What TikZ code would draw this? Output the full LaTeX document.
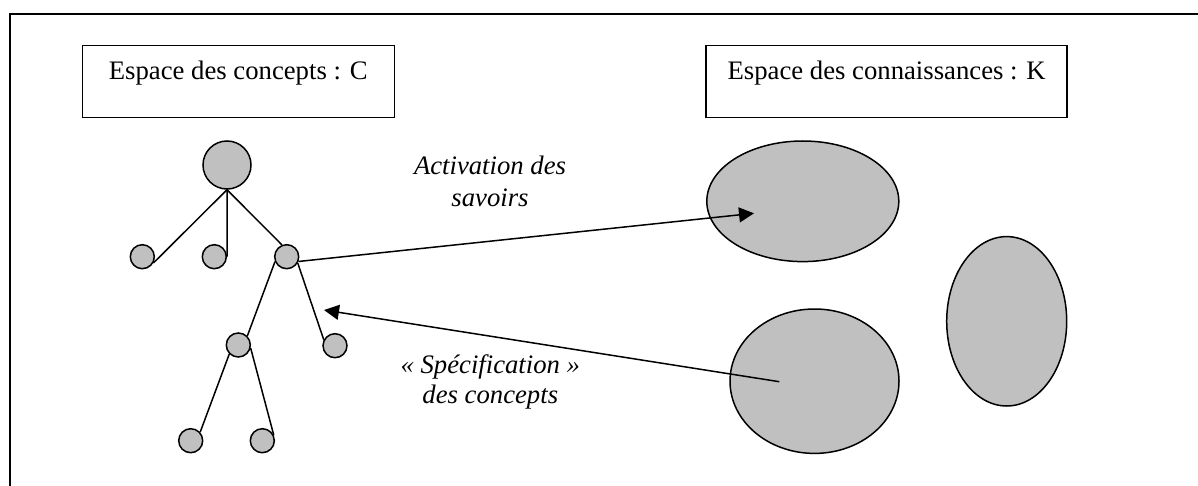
\documentclass[tikz,border=0pt]{standalone}
\usepackage{fontspec}
\setmainfont{Liberation Serif}
\usetikzlibrary{arrows.meta,shapes.geometric}
\definecolor{grayfill}{RGB}{192,192,192}
\begin{document}
\begin{tikzpicture}[x=1pt,y=-1pt,
  lw/.style={line width=1.5pt},
  bignode/.style={circle,draw,lw,fill=grayfill,minimum size=48pt,inner sep=0pt},
  smallnode/.style={circle,draw,lw,fill=grayfill,minimum size=24pt,inner sep=0pt},
  blob/.style={ellipse,draw,lw,fill=grayfill,inner sep=0pt},
  titlebox/.style={draw,lw,inner sep=0pt,font=\fontsize{26.7}{32}\selectfont,text height=19pt,text depth=22pt},
  lab/.style={font=\fontsize{26.7}{32}\selectfont\itshape,anchor=base,inner sep=0pt},
  tree/.style={lw},
  arr/.style={lw,-{Triangle[length=15pt,width=15pt]}}]
\useasboundingbox (0,0) rectangle (1198,486);
\fill[white] (0,0) rectangle (1198,486);
\draw[line width=2pt] (10,486) -- (10,14) -- (1198,14);

\node[titlebox,minimum width=312pt,minimum height=72pt] (boxC) at (238.3,81.5) {Espace des concepts : C};
\node[titlebox,minimum width=361pt,minimum height=72pt] (boxK) at (886.7,81.4) {Espace des connaissances : K};

% tree
\node[bignode] (root) at (227,165) {};
\node[smallnode] (c1) at (142.3,256.7) {};
\node[smallnode] (c2) at (214.3,256.7) {};
\node[smallnode] (c3) at (286.7,256.7) {};
\node[smallnode] (d1) at (238.3,345) {};
\node[smallnode] (d2) at (335,345.7) {};
\node[smallnode] (e1) at (190.7,440.7) {};
\node[smallnode] (e2) at (262.3,440.7) {};

\draw[tree] (root.south) -- (c1.-30);
\draw[tree] (root.south) -- (c2.east);
\draw[tree] (root.south) -- (c3.112);
\draw[tree] (c3.203) -- (d1.45);
\draw[tree] (c3.-30) -- (d2.152);
\draw[tree] (d1.225) -- (e1.42);
\draw[tree] (d1.-14) -- (e2.26);

% knowledge blobs
\node[blob,minimum width=192pt,minimum height=120.6pt] (E1) at (802.8,201.3) {};
\node[blob,minimum width=169pt,minimum height=144.4pt] (E2) at (814.5,381.2) {};
\node[blob,minimum width=120pt,minimum height=169.4pt] (E3) at (1006.7,321.3) {};

\coordinate (t1) at (754,213.3);
\coordinate (s2) at (779.3,381.7);
\coordinate (t2) at (324,310);

\draw[arr] (c3.-22) -- (t1);
\draw[arr] (s2) -- (t2);

\node[lab] (la1) at (490,175) {Activation des};
\node[lab] (la2) at (490,206.7) {savoirs};
\node[lab] (lb1) at (490.3,373) {« Spécification »};
\node[lab] (lb2) at (490.3,403.3) {des concepts};
\end{tikzpicture}
\end{document}
